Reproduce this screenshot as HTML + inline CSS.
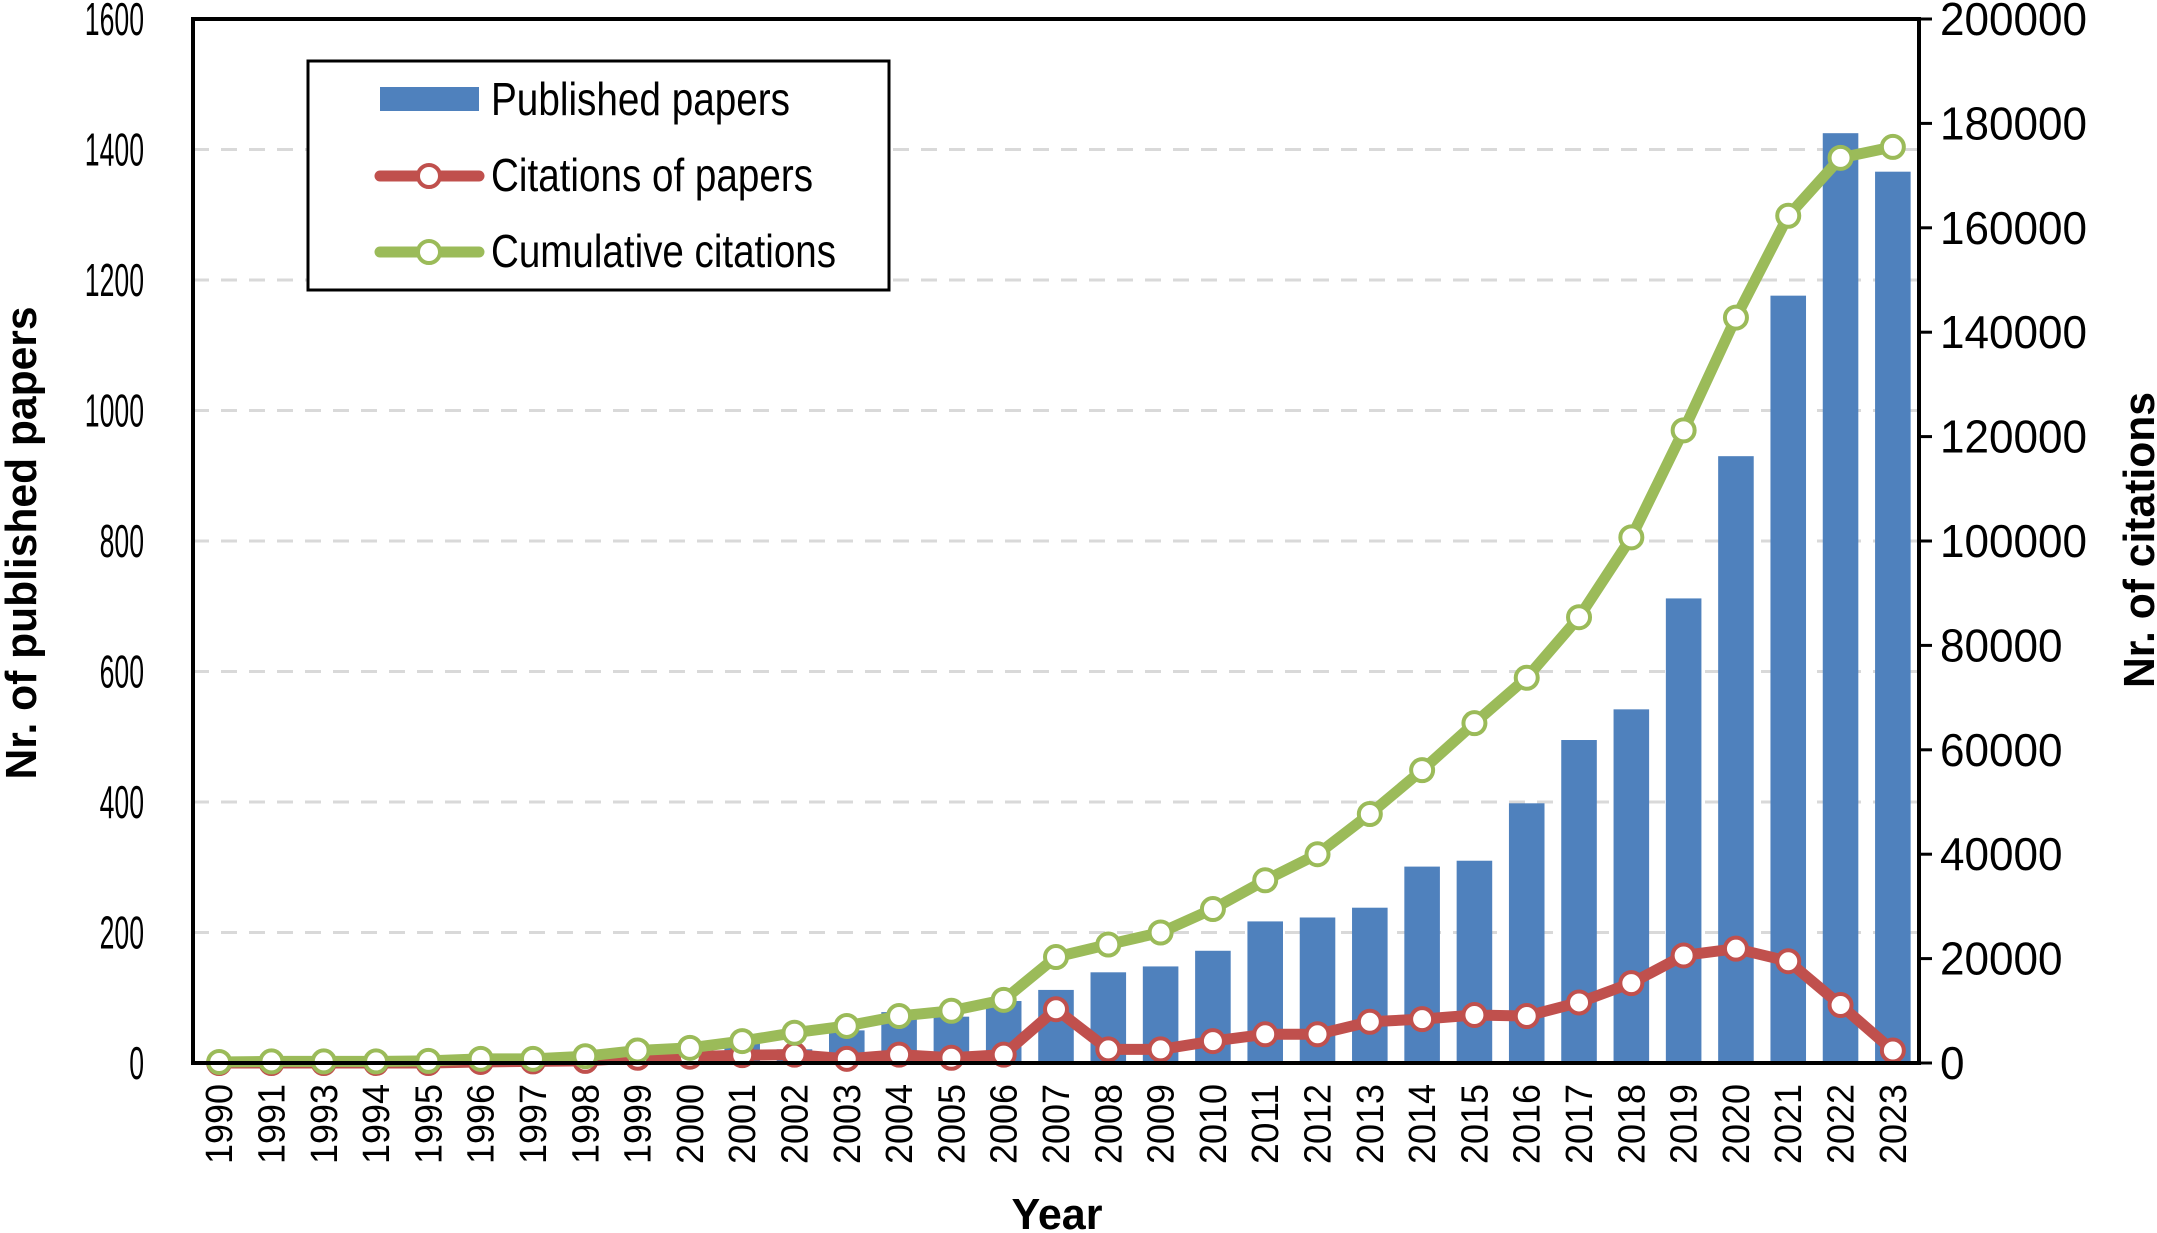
<!DOCTYPE html>
<html><head><meta charset="utf-8"><style>
html,body{margin:0;padding:0;background:#fff;}
svg{display:block;font-family:"Liberation Sans",Arial,sans-serif;}
</style></head><body>
<svg id="chart" width="2157" height="1233" viewBox="0 0 2157 1233" xmlns="http://www.w3.org/2000/svg">
<g id="grid"></g>
<g id="bars"></g>
<g id="lines"></g>
<g id="axes"></g>
<g id="legend">
  <rect x="308" y="61" width="581" height="229" fill="#fff" stroke="#000" stroke-width="3"/>
  <rect x="380" y="87" width="99" height="24" fill="#4f81bd"/>
  <text x="491" y="115" font-size="46" textLength="299" lengthAdjust="spacingAndGlyphs">Published papers</text>
  <line x1="380" y1="176" x2="479" y2="176" stroke="#c0504d" stroke-width="11" stroke-linecap="round"/>
  <circle cx="429" cy="176" r="11" fill="#fff" stroke="#c0504d" stroke-width="4"/>
  <text x="491" y="191" font-size="46" textLength="322" lengthAdjust="spacingAndGlyphs">Citations of papers</text>
  <line x1="380" y1="252" x2="479" y2="252" stroke="#9bbb59" stroke-width="11" stroke-linecap="round"/>
  <circle cx="429" cy="252" r="11" fill="#fff" stroke="#9bbb59" stroke-width="4"/>
  <text x="491" y="267" font-size="46" textLength="345" lengthAdjust="spacingAndGlyphs">Cumulative citations</text>
</g>
<text transform="translate(36,543) rotate(-90)" text-anchor="middle" font-size="44" font-weight="bold" textLength="473" lengthAdjust="spacingAndGlyphs">Nr. of published papers</text>
<text transform="translate(2154,540) rotate(-90)" text-anchor="middle" font-size="44" font-weight="bold" textLength="296" lengthAdjust="spacingAndGlyphs">Nr. of citations</text>
<text x="1057" y="1229" text-anchor="middle" font-size="44" font-weight="bold" textLength="91" lengthAdjust="spacingAndGlyphs">Year</text>
</svg>
<script>
const years = ["1990","1991","1993","1994","1995","1996","1997","1998","1999","2000","2001","2002","2003","2004","2005","2006","2007","2008","2009","2010","2011","2012","2013","2014","2015","2016","2017","2018","2019","2020","2021","2022","2023"];
const papers = [0,0,0,0,0,1,1,2,5,8,33,21,50,78,71,95,112,139,148,172,217,223,238,301,310,398,495,542,712,930,1176,1425,1366];
const citations = [0,0,0,0,0,200,300,400,1000,1200,1500,1600,800,1600,1000,1600,10300,2600,2600,4200,5500,5500,7900,8400,9200,9000,11600,15300,20600,21900,19500,11100,2400];
const cumulative = [200,300,300,300,400,800,800,1300,2400,2900,4200,5800,7100,9000,10000,12100,20300,22700,25000,29500,35000,40000,47700,56100,65100,73800,85400,100700,121200,142800,162300,173400,175500];
const leftTicks = ["0","200","400","600","800","1000","1200","1400","1600"];
const rightTicks = ["0","20000","40000","60000","80000","100000","120000","140000","160000","180000","200000"];

const NS = "http://www.w3.org/2000/svg";
const L = 193, R = 1919, T = 19, B = 1063;
const band = (R - L) / years.length;
const xC = i => L + band * (i + 0.5);
const yL = v => B - (v / 1600) * (B - T);
const yR = v => B - (v / 200000) * (B - T);
function mk(tag, attrs, parent) {
  const e = document.createElementNS(NS, tag);
  for (const k in attrs) e.setAttribute(k, attrs[k]);
  parent.appendChild(e);
  return e;
}
const grid = document.getElementById('grid');
const axes = document.getElementById('axes');
const barsG = document.getElementById('bars');
const linesG = document.getElementById('lines');

leftTicks.forEach(t => {
  const v = +t, y = yL(v);
  if (v > 0 && v < 1600) {
    const g = mk('line', {x1: L, x2: R, y1: y, y2: y, stroke: '#d9d9d9', 'stroke-width': 3, 'stroke-dasharray': '16 12'}, grid);
    
    
  }
  const tx = mk('text', {x: 144, y: y + 16, 'text-anchor': 'end', 'font-size': 46, textLength: t.length * 14.8, lengthAdjust: 'spacingAndGlyphs'}, axes);
  tx.textContent = t;
  
  
});
rightTicks.forEach(t => {
  const y = yR(+t);
  const tk = mk('line', {x1: R, x2: R + 13, y1: y, y2: y, stroke: '#000', 'stroke-width': 3}, axes);
  
  
  const tx = mk('text', {x: 1940, y: y + 16, 'font-size': 46, textLength: t.length * 24.5, lengthAdjust: 'spacingAndGlyphs'}, axes);
  tx.textContent = t;
  
  
});

papers.forEach((v, i) => {
  const bw = band * 0.68;
  const r = mk('rect', {x: xC(i) - bw / 2, y: yL(v), width: bw, height: B - yL(v), fill: '#4f81bd'}, barsG);
  
  
});

function series(vals, color, name) {
  const g = mk('g', {}, linesG);
  
  
  const pts = vals.map((v, i) => xC(i) + ',' + yR(v)).join(' ');
  const pl = mk('polyline', {points: pts, fill: 'none', stroke: color, 'stroke-width': 11, 'stroke-linejoin': 'round'}, g);
  
  
  vals.forEach((v, i) => {
    const c = mk('circle', {cx: xC(i), cy: yR(v), r: 11, fill: '#fff', stroke: color, 'stroke-width': 4}, g);
    
    
  });
}
series(citations, '#c0504d', 'citations');
series(cumulative, '#9bbb59', 'cumulative');

const frame = mk('rect', {x: L, y: T, width: R - L, height: B - T, fill: 'none', stroke: '#000', 'stroke-width': 4}, axes);



years.forEach((yr, i) => {
  const tx = mk('text', {transform: 'translate(' + (xC(i) + 13) + ',1084) rotate(-90)', 'text-anchor': 'end', 'font-size': 38, textLength: 80, lengthAdjust: 'spacingAndGlyphs'}, axes);
  tx.textContent = yr;
  
  
});
</script>
</body></html>
